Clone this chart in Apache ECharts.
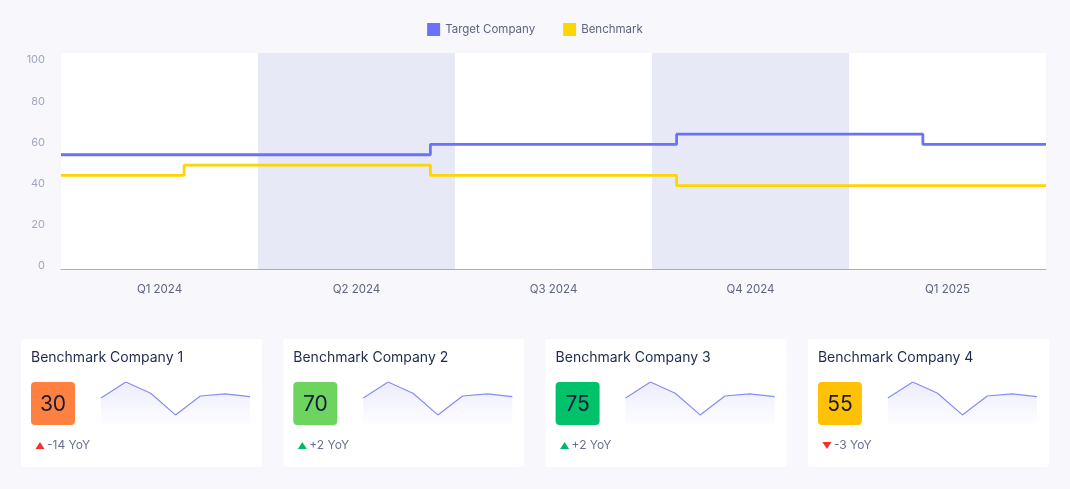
<!DOCTYPE html>
<html>
<head>
<meta charset="utf-8">
<script src="https://cdn.jsdelivr.net/npm/echarts@6/dist/echarts.min.js"></script>
<style>
  html, body { margin: 0; padding: 0; background: #f7f7fc; }
  #chart { width: 1070px; height: 489px; }
</style>
</head>
<body>
<div id="chart"></div>
<script>
// main chart data
const quarters = ['Q1 2024', 'Q2 2024', 'Q3 2024', 'Q4 2024', 'Q1 2025']
const targetScores = [54, 54, 59, 64, 59]
const benchmarkScores = [44, 49, 44, 39, 39]

// benchmark cards
const companies = ['Benchmark Company 1', 'Benchmark Company 2', 'Benchmark Company 3', 'Benchmark Company 4']
const companyScores = [30, 70, 75, 55]
const companyYoY = ['-14 YoY', '+2 YoY', '+2 YoY', '-3 YoY']
const yoyArrow = ['up', 'up', 'up', 'down']
const yoyGood = [false, true, true, false]
const trendPeriods = ['1', '2', '3', '4', '5', '6', '7']
const trendValues = [57, 80, 64, 33, 60, 63, 59]

// styles
const font = 'Inter, "Noto Sans", sans-serif'
const scoreColors = ['#ff8142', '#6dd55f', '#00c26b', '#ffc105']
const cardLeft = 21, cardStep = 262.3, cardTop = 339

const chart = echarts.init(document.getElementById('chart'), null, {renderer: 'canvas'})

const grids = [{left: 61, right: 24, top: 53, bottom: 219.5, show: true, backgroundColor: '#ffffff', borderWidth: 0}]
const xAxes = [
  {
    type: 'category', gridIndex: 0, data: quarters, boundaryGap: true,
    axisTick: {show: false},
    axisLine: {onZero: false, lineStyle: {color: '#a9adc4', width: 1}},
    axisLabel: {color: '#5f6482', fontSize: 11.5, fontFamily: font, margin: 14.5},
    splitArea: {show: true, areaStyle: {color: ['rgba(255,255,255,0)', '#e7e9f7']}}
  },
  {type: 'category', gridIndex: 0, data: quarters, boundaryGap: false, show: false}
]
const yAxes = [{
  type: 'value', gridIndex: 0, min: -1.7, max: 103.4,
  splitLine: {show: false}, axisLine: {show: false}, axisTick: {show: false},
  axisLabel: {
    color: '#a3a7bf', fontSize: 11, fontFamily: font, margin: 16,
    formatter: function (v) { return Math.abs(v % 20) < 1e-6 ? String(v) : '' }
  }
}]
const series = [
  {
    name: 'Target Company', type: 'line', step: 'middle', xAxisIndex: 1, yAxisIndex: 0,
    data: targetScores, symbol: 'none', color: '#6b72f7',
    lineStyle: {width: 2.8, color: '#6b72f7'}
  },
  {
    name: 'Benchmark', type: 'line', step: 'middle', xAxisIndex: 1, yAxisIndex: 0,
    data: benchmarkScores, symbol: 'none', color: '#ffd500',
    lineStyle: {width: 2.8, color: '#ffd500'}
  }
]
const graphics = []

for (var i = 0; i < companies.length; i++) {
  var cx = cardLeft + i * cardStep
  // card background
  graphics.push({
    type: 'rect', z: -10, shape: {x: cx, y: cardTop, width: 241, height: 128, r: 2},
    style: {fill: '#ffffff'}
  })
  graphics.push({
    type: 'text', z: 5, x: cx + 10, y: 357.5,
    style: {text: companies[i], fill: '#1f2a4d', font: '14px ' + font, textVerticalAlign: 'middle'}
  })
  graphics.push({
    type: 'rect', z: 5, shape: {x: cx + 10, y: 382, width: 44, height: 43, r: 4},
    style: {fill: scoreColors[i]}
  })
  graphics.push({
    type: 'text', z: 6, x: cx + 32, y: 404.5,
    style: {text: String(companyScores[i]), fill: '#15193a', font: '21px ' + font, textAlign: 'center', textVerticalAlign: 'middle'}
  })
  var tx = cx + 19, ty = 445.5
  var pts = yoyArrow[i] === 'up'
    ? [[tx - 4.5, ty + 3.5], [tx + 4.5, ty + 3.5], [tx, ty - 3.5]]
    : [[tx - 4.5, ty - 3.5], [tx + 4.5, ty - 3.5], [tx, ty + 3.5]]
  graphics.push({
    type: 'polygon', z: 5, shape: {points: pts},
    style: {fill: yoyGood[i] ? '#00b86b' : '#f2302f'}
  })
  graphics.push({
    type: 'text', z: 5, x: cx + 26, y: ty,
    style: {text: companyYoY[i], fill: '#6b7090', font: '12px ' + font, textVerticalAlign: 'middle'}
  })

  // sparkline
  grids.push({left: cx + 80, top: 382, width: 149, height: 42})
  xAxes.push({type: 'category', gridIndex: i + 1, data: trendPeriods, boundaryGap: false, show: false})
  yAxes.push({type: 'value', gridIndex: i + 1, min: 20, max: 80, show: false})
  series.push({
    type: 'line', xAxisIndex: i + 2, yAxisIndex: i + 1, data: trendValues,
    symbol: 'none', silent: true,
    lineStyle: {width: 1.2, color: '#868cf5'},
    areaStyle: {
      color: new echarts.graphic.LinearGradient(0, 0, 0, 1, [
        {offset: 0, color: 'rgba(107,114,247,0.18)'},
        {offset: 1, color: 'rgba(107,114,247,0.02)'}
      ])
    }
  })
}

const option = {
  backgroundColor: '#f7f7fc',
  animation: false,
  legend: {
    top: 18, left: 'center', icon: 'rect', itemWidth: 13, itemHeight: 13, itemGap: 28,
    data: ['Target Company', 'Benchmark'],
    textStyle: {color: '#5f6482', fontSize: 11.5, fontFamily: font}
  },
  grid: grids,
  xAxis: xAxes,
  yAxis: yAxes,
  series: series,
  graphic: graphics
}
chart.setOption(option)
</script>
</body>
</html>
